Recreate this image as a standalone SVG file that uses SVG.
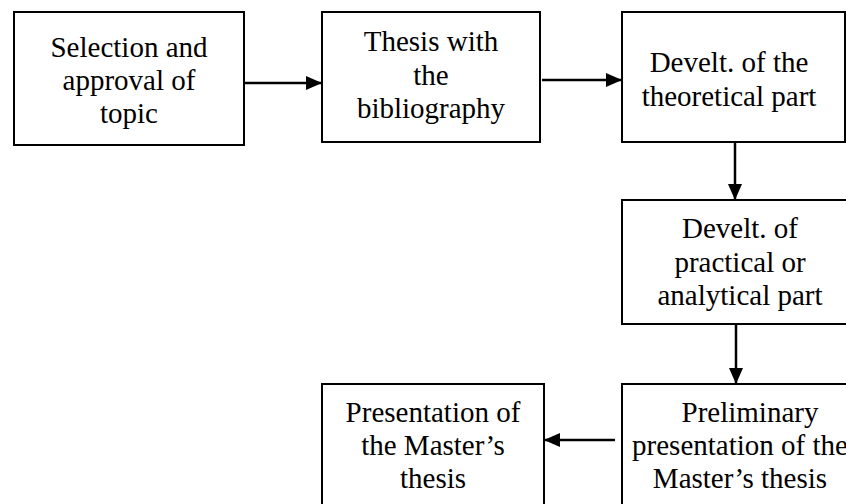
<svg xmlns="http://www.w3.org/2000/svg" width="846" height="504" viewBox="0 0 846 504">
<style>
.box{fill:#fff;stroke:#000;stroke-width:2}
.t{font-family:"Liberation Serif","Times New Roman",serif;font-size:29px;fill:#000;text-anchor:middle}
.c{stroke:#000;stroke-width:2.5;fill:none}
</style>
<defs>
<marker id="ah" markerUnits="userSpaceOnUse" markerWidth="16" markerHeight="14" refX="16" refY="7" orient="auto">
<path d="M0,0 L16,7 L0,14 Z" fill="#000"/>
</marker>
</defs>
<rect width="846" height="504" fill="#fff"/>
<g id="n1">
<rect class="box" x="14" y="12" width="230" height="133"/>
<text class="t" x="129" y="57">Selection and</text>
<text class="t" x="129" y="90">approval of</text>
<text class="t" x="129" y="123">topic</text>
</g>
<g id="n2">
<rect class="box" x="322" y="12" width="218" height="130"/>
<text class="t" x="431" y="51">Thesis with</text>
<text class="t" x="431" y="85">the</text>
<text class="t" x="431" y="118">bibliography</text>
</g>
<g id="n3">
<rect class="box" x="622" y="12" width="223" height="130"/>
<text class="t" x="729" y="72">Develt. of the</text>
<text class="t" x="729" y="106">theoretical part</text>
</g>
<g id="n4">
<rect class="box" x="622" y="200" width="240" height="124"/>
<text class="t" x="740" y="238">Develt. of</text>
<text class="t" x="740" y="272">practical or</text>
<text class="t" x="740" y="305">analytical part</text>
</g>
<g id="n5">
<rect class="box" x="622" y="384" width="240" height="130"/>
<text class="t" x="750" y="422">Preliminary</text>
<text class="t" x="740" y="455">presentation of the</text>
<text class="t" x="740" y="488">Master’s thesis</text>
</g>
<g id="n6">
<rect class="box" x="322" y="384" width="222" height="130"/>
<text class="t" x="433" y="422">Presentation of</text>
<text class="t" x="433" y="455">the Master’s</text>
<text class="t" x="433" y="488">thesis</text>
</g>
<g id="connectors">
<line class="c" x1="244" y1="83" x2="322" y2="83" marker-end="url(#ah)"/>
<line class="c" x1="542" y1="80" x2="622" y2="80" marker-end="url(#ah)"/>
<line class="c" x1="735" y1="142" x2="735" y2="200" marker-end="url(#ah)"/>
<line class="c" x1="736" y1="324" x2="736" y2="384" marker-end="url(#ah)"/>
<line class="c" x1="615" y1="440" x2="544" y2="440" marker-end="url(#ah)"/>
</g>
</svg>
